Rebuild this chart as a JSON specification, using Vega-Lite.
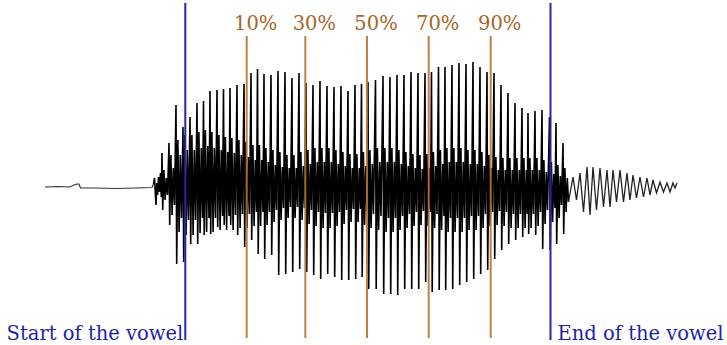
{
"$schema": "https://vega.github.io/schema/vega-lite/v6.json",
"width": 727, "height": 345, "padding": 0,
"autosize": {"type": "fit", "contains": "padding"},
"background": "white",
"config": {"view": {"stroke": null}},
"layer": [
{"data": {"values": [
{"t":45,"v":0},{"t":58,"v":0.5},{"t":70,"v":0},{"t":74,"v":2},{"t":77,"v":3},{"t":79,"v":3},{"t":80.5,"v":-1},{"t":95,"v":-1},{"t":115,"v":-1.5},{"t":135,"v":-1},{"t":152,"v":-0.5},{"t":153.5,"v":3}
]},
"mark": {"type": "line", "color": "#333333", "strokeWidth": 1.2},
"encoding": {
"x": {"field": "t", "type": "quantitative", "scale": {"domain": [0, 727], "nice": false, "zero": false}, "axis": null},
"y": {"field": "v", "type": "quantitative", "scale": {"domain": [-158, 187], "nice": false, "zero": false}, "axis": null}
}},
{"data": {"values": [
{"t":153.5,"v":3},{"t":154.5,"v":9},{"t":155.3,"v":-6},{"t":156,"v":-18},{"t":156.8,"v":4},{"t":157.6,"v":-8},{"t":158.5,"v":10},{"t":159.5,"v":-5},{"t":160.5,"v":14},{"t":161.3,"v":-10},
{"t":162,"v":34},{"t":162.7,"v":-23},{"t":163.9,"v":17},{"t":165.1,"v":-13},{"t":166.3,"v":9},{"t":167.5,"v":-8},
{"t":169,"v":44},{"t":169.7,"v":-38},{"t":170.9,"v":32},{"t":172.1,"v":-28},{"t":173.3,"v":19},{"t":174.5,"v":-18},
{"t":176,"v":82},{"t":176.7,"v":-77},{"t":177.9,"v":47},{"t":179.1,"v":-45},{"t":180.3,"v":32},{"t":181.5,"v":-31},
{"t":183,"v":60},{"t":183.7,"v":-75},{"t":184.9,"v":52},{"t":186.1,"v":-48},{"t":187.3,"v":37},{"t":188.5,"v":-33},
{"t":190,"v":70},{"t":190.7,"v":-57},{"t":191.9,"v":52},{"t":193.1,"v":-48},{"t":194.3,"v":37},{"t":195.5,"v":-33},
{"t":197,"v":84},{"t":197.7,"v":-57},{"t":198.9,"v":55},{"t":200.1,"v":-46},{"t":201.3,"v":39},{"t":202.5,"v":-31},
{"t":203.5,"v":86},{"t":204.2,"v":-48},{"t":205.4,"v":57},{"t":206.6,"v":-45},{"t":207.8,"v":41},{"t":209,"v":-31},
{"t":210,"v":96},{"t":210.7,"v":-47},{"t":211.9,"v":55},{"t":213.1,"v":-45},{"t":214.3,"v":39},{"t":215.5,"v":-31},
{"t":217,"v":97},{"t":217.7,"v":-40},{"t":218.9,"v":52},{"t":220.1,"v":-43},{"t":221.3,"v":37},{"t":222.5,"v":-29},
{"t":223.5,"v":98},{"t":224.2,"v":-38},{"t":225.4,"v":50},{"t":226.6,"v":-43},{"t":227.8,"v":35},{"t":229,"v":-29},
{"t":230,"v":99},{"t":230.7,"v":-38},{"t":231.9,"v":49},{"t":233.1,"v":-43},{"t":234.3,"v":34},{"t":235.5,"v":-28},
{"t":237,"v":102},{"t":237.7,"v":-48},{"t":238.9,"v":47},{"t":240.1,"v":-41},{"t":241.3,"v":32},{"t":242.5,"v":-27},
{"t":244,"v":103},{"t":244.7,"v":-60},{"t":245.9,"v":45},{"t":247.1,"v":-41},{"t":248.3,"v":30},{"t":249.5,"v":-27},
{"t":251,"v":114},{"t":251.7,"v":-53},{"t":252.9,"v":42},{"t":254.1,"v":-39},{"t":255.3,"v":27},{"t":256.5,"v":-25},
{"t":257.5,"v":118},{"t":258.2,"v":-67},{"t":259.4,"v":42},{"t":260.6,"v":-39},{"t":261.8,"v":27},{"t":263,"v":-25},
{"t":264,"v":113},{"t":264.7,"v":-72},{"t":265.9,"v":39},{"t":267.1,"v":-38},{"t":268.3,"v":25},{"t":269.5,"v":-25},
{"t":271,"v":112},{"t":271.7,"v":-68},{"t":272.9,"v":37},{"t":274.1,"v":-35},{"t":275.3,"v":22},{"t":276.5,"v":-23},
{"t":278,"v":116},{"t":278.7,"v":-88},{"t":279.9,"v":35},{"t":281.1,"v":-33},{"t":282.3,"v":20},{"t":283.5,"v":-21},
{"t":285,"v":115},{"t":285.7,"v":-87},{"t":286.9,"v":32},{"t":288.1,"v":-31},{"t":289.3,"v":19},{"t":290.5,"v":-20},
{"t":292,"v":109},{"t":292.7,"v":-85},{"t":293.9,"v":32},{"t":295.1,"v":-31},{"t":296.3,"v":19},{"t":297.5,"v":-20},
{"t":299,"v":114},{"t":299.7,"v":-82},{"t":300.9,"v":35},{"t":302.1,"v":-33},{"t":303.3,"v":21},{"t":304.5,"v":-21},
{"t":306,"v":104},{"t":306.7,"v":-85},{"t":307.9,"v":37},{"t":309.1,"v":-37},{"t":310.3,"v":23},{"t":311.5,"v":-23},
{"t":313,"v":102},{"t":313.7,"v":-88},{"t":314.9,"v":39},{"t":316.1,"v":-39},{"t":317.3,"v":25},{"t":318.5,"v":-25},
{"t":320,"v":106},{"t":320.7,"v":-92},{"t":321.9,"v":39},{"t":323.1,"v":-41},{"t":324.3,"v":25},{"t":325.5,"v":-26},
{"t":327,"v":101},{"t":327.7,"v":-87},{"t":328.9,"v":39},{"t":330.1,"v":-41},{"t":331.3,"v":25},{"t":332.5,"v":-26},
{"t":334,"v":100},{"t":334.7,"v":-90},{"t":335.9,"v":37},{"t":337.1,"v":-39},{"t":338.3,"v":23},{"t":339.5,"v":-25},
{"t":341,"v":101},{"t":341.7,"v":-93},{"t":342.9,"v":35},{"t":344.1,"v":-37},{"t":345.3,"v":21},{"t":346.5,"v":-23},
{"t":348,"v":96},{"t":348.7,"v":-93},{"t":349.9,"v":33},{"t":351.1,"v":-35},{"t":352.3,"v":19},{"t":353.5,"v":-22},
{"t":355,"v":102},{"t":355.7,"v":-92},{"t":356.9,"v":33},{"t":358.1,"v":-35},{"t":359.3,"v":19},{"t":360.5,"v":-22},
{"t":361.5,"v":103},{"t":362.2,"v":-90},{"t":363.4,"v":35},{"t":364.6,"v":-38},{"t":365.8,"v":21},{"t":367,"v":-24},
{"t":368,"v":105},{"t":368.7,"v":-102},{"t":369.9,"v":37},{"t":371.1,"v":-41},{"t":372.3,"v":23},{"t":373.5,"v":-27},
{"t":375.5,"v":107},{"t":376.2,"v":-102},{"t":377.4,"v":39},{"t":378.6,"v":-43},{"t":379.8,"v":25},{"t":381,"v":-29},
{"t":383,"v":111},{"t":383.7,"v":-107},{"t":384.9,"v":39},{"t":386.1,"v":-45},{"t":387.3,"v":25},{"t":388.5,"v":-31},
{"t":390,"v":110},{"t":390.7,"v":-107},{"t":391.9,"v":39},{"t":393.1,"v":-45},{"t":394.3,"v":25},{"t":395.5,"v":-31},
{"t":397,"v":112},{"t":397.7,"v":-108},{"t":398.9,"v":37},{"t":400.1,"v":-43},{"t":401.3,"v":23},{"t":402.5,"v":-29},
{"t":404,"v":112},{"t":404.7,"v":-102},{"t":405.9,"v":35},{"t":407.1,"v":-41},{"t":408.3,"v":21},{"t":409.5,"v":-27},
{"t":411,"v":115},{"t":411.7,"v":-102},{"t":412.9,"v":33},{"t":414.1,"v":-39},{"t":415.3,"v":19},{"t":416.5,"v":-25},
{"t":418,"v":114},{"t":418.7,"v":-102},{"t":419.9,"v":32},{"t":421.1,"v":-38},{"t":422.3,"v":18},{"t":423.5,"v":-24},
{"t":425,"v":114},{"t":425.7,"v":-95},{"t":426.9,"v":33},{"t":428.1,"v":-39},{"t":429.3,"v":19},{"t":430.5,"v":-25},
{"t":431.5,"v":115},{"t":432.2,"v":-105},{"t":433.4,"v":35},{"t":434.6,"v":-41},{"t":435.8,"v":21},{"t":437,"v":-27},
{"t":438.5,"v":120},{"t":439.2,"v":-103},{"t":440.4,"v":37},{"t":441.6,"v":-43},{"t":442.8,"v":23},{"t":444,"v":-29},
{"t":445,"v":120},{"t":445.7,"v":-103},{"t":446.9,"v":39},{"t":448.1,"v":-45},{"t":449.3,"v":25},{"t":450.5,"v":-31},
{"t":452,"v":122},{"t":452.7,"v":-102},{"t":453.9,"v":39},{"t":455.1,"v":-45},{"t":456.3,"v":25},{"t":457.5,"v":-31},
{"t":459,"v":124},{"t":459.7,"v":-98},{"t":460.9,"v":39},{"t":462.1,"v":-45},{"t":463.3,"v":25},{"t":464.5,"v":-31},
{"t":466,"v":123},{"t":466.7,"v":-95},{"t":467.9,"v":37},{"t":469.1,"v":-43},{"t":470.3,"v":23},{"t":471.5,"v":-29},
{"t":473,"v":125},{"t":473.7,"v":-92},{"t":474.9,"v":37},{"t":476.1,"v":-43},{"t":477.3,"v":23},{"t":478.5,"v":-29},
{"t":480,"v":120},{"t":480.7,"v":-87},{"t":481.9,"v":35},{"t":483.1,"v":-41},{"t":484.3,"v":21},{"t":485.5,"v":-27},
{"t":487,"v":115},{"t":487.7,"v":-83},{"t":488.9,"v":32},{"t":490.1,"v":-39},{"t":491.3,"v":19},{"t":492.5,"v":-25},
{"t":494,"v":114},{"t":494.7,"v":-72},{"t":495.9,"v":30},{"t":497.1,"v":-38},{"t":498.3,"v":17},{"t":499.5,"v":-24},
{"t":501,"v":102},{"t":501.7,"v":-63},{"t":502.9,"v":29},{"t":504.1,"v":-39},{"t":505.3,"v":17},{"t":506.5,"v":-25},
{"t":508,"v":94},{"t":508.7,"v":-57},{"t":509.9,"v":29},{"t":511.1,"v":-41},{"t":512.3,"v":17},{"t":513.5,"v":-27},
{"t":515,"v":84},{"t":515.7,"v":-53},{"t":516.9,"v":29},{"t":518.1,"v":-41},{"t":519.3,"v":17},{"t":520.5,"v":-27},
{"t":522,"v":79},{"t":522.7,"v":-50},{"t":523.9,"v":29},{"t":525.1,"v":-41},{"t":526.3,"v":17},{"t":527.3,"v":-27},
{"t":528,"v":74},{"t":528.7,"v":-47},{"t":529.9,"v":29},{"t":531.1,"v":-41},{"t":532.3,"v":17},{"t":533.5,"v":-27},
{"t":535,"v":76},{"t":535.7,"v":-48},{"t":536.9,"v":29},{"t":538.1,"v":-39},{"t":539.3,"v":17},{"t":540.5,"v":-25},
{"t":542,"v":77},{"t":542.7,"v":-62},{"t":543.9,"v":27},{"t":545.1,"v":-37},{"t":546.3,"v":15},{"t":547.5,"v":-23},
{"t":549.5,"v":70},{"t":550.2,"v":-63},{"t":551.4,"v":25},{"t":552.6,"v":-35},{"t":553.8,"v":13},{"t":555,"v":-21},
{"t":556,"v":64},{"t":556.7,"v":-57},{"t":557.9,"v":22},{"t":559.1,"v":-31},{"t":560.3,"v":11},{"t":561.5,"v":-18},
{"t":563,"v":44},{"t":563.7,"v":-47},{"t":564.9,"v":19},{"t":566.1,"v":-25},{"t":567.3,"v":9},{"t":568.5,"v":-15}
]},
"mark": {"type": "line", "color": "black", "strokeWidth": 1.6},
"encoding": {
"x": {"field": "t", "type": "quantitative"},
"y": {"field": "v", "type": "quantitative"}
}},
{"data": {"values": [
{"t":568.5,"v":-15},{"t":573,"v":10},{"t":576.5,"v":-13},{"t":580,"v":14},{"t":583.5,"v":-25},{"t":587,"v":20},{"t":590,"v":-28},{"t":593,"v":20},{"t":596.5,"v":-23},
{"t":600,"v":19},{"t":603.5,"v":-20},{"t":607,"v":17},{"t":610,"v":-20},{"t":613,"v":17},{"t":616.5,"v":-15},{"t":620,"v":17},{"t":623.5,"v":-15},
{"t":627,"v":14},{"t":630,"v":-13},{"t":633,"v":12},{"t":636.5,"v":-11},{"t":640,"v":10},{"t":643.5,"v":-10},{"t":647,"v":9},{"t":650,"v":-8},
{"t":653,"v":7},{"t":656.5,"v":-6},{"t":660,"v":5},{"t":663.5,"v":-5},{"t":667,"v":4},{"t":670,"v":-5},{"t":673,"v":4},{"t":675,"v":-1},{"t":677,"v":4}
]},
"mark": {"type": "line", "color": "#222222", "strokeWidth": 1.3},
"encoding": {
"x": {"field": "t", "type": "quantitative"},
"y": {"field": "v", "type": "quantitative"}
}},
{"data": {"values": [{"t":246.7,"label":"10%"},{"t":305.3,"label":"30%"},{"t":367,"label":"50%"},{"t":428.7,"label":"70%"},{"t":490.7,"label":"90%"}]},
"layer": [
{"mark": {"type": "rule", "color": "#b8732d", "strokeWidth": 2, "opacity": 0.9},
"encoding": {"x": {"field": "t", "type": "quantitative"}, "y": {"datum": 151}, "y2": {"datum": -151}}},
{"mark": {"type": "text", "font": "DejaVu Serif", "fontSize": 19.5, "color": "#a8652a", "dx": 9, "align": "center", "baseline": "alphabetic"},
"encoding": {"x": {"field": "t", "type": "quantitative"}, "y": {"datum": 157}, "text": {"field": "label"}}}
]},
{"data": {"values": [{"t":185.3},{"t":550.5}]},
"mark": {"type": "rule", "color": "#2626b0", "strokeWidth": 2},
"encoding": {"x": {"field": "t", "type": "quantitative"}, "y": {"datum": 184}, "y2": {"datum": -153}}},
{"data": {"values": [{"t":185.3,"label":"Start of the vowel"}]},
"mark": {"type": "text", "font": "DejaVu Serif", "fontSize": 19.5, "color": "#1f1fa8", "dx": -2, "align": "right", "baseline": "alphabetic"},
"encoding": {"x": {"field": "t", "type": "quantitative"}, "y": {"datum": -153}, "text": {"field": "label"}}},
{"data": {"values": [{"t":550.5,"label":"End of the vowel"}]},
"mark": {"type": "text", "font": "DejaVu Serif", "fontSize": 19.5, "color": "#1f1fa8", "dx": 7, "align": "left", "baseline": "alphabetic"},
"encoding": {"x": {"field": "t", "type": "quantitative"}, "y": {"datum": -153}, "text": {"field": "label"}}}
]
}
